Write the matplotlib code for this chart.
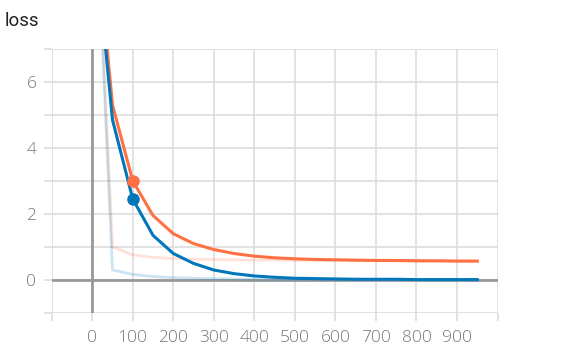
import matplotlib.pyplot as plt
import numpy as np

# training steps and loss values (smoothed and raw) for two runs
steps = [0, 50, 100, 150, 200, 250, 300, 350, 400, 450, 500, 550, 600,
         650, 700, 750, 800, 850, 900, 950]

orange_smooth = [11.8, 5.3, 3.0, 1.95, 1.4, 1.1, 0.92, 0.8, 0.72, 0.67, 0.64,
                 0.62, 0.61, 0.6, 0.59, 0.59, 0.58, 0.58, 0.57, 0.57]
blue_smooth = [11.2, 4.85, 2.45, 1.35, 0.8, 0.5, 0.3, 0.19, 0.12, 0.08, 0.05,
               0.04, 0.03, 0.02, 0.02, 0.02, 0.01, 0.01, 0.01, 0.01]

orange_raw = [14.0, 1.0, 0.76, 0.68, 0.65, 0.63, 0.62, 0.61, 0.6, 0.6, 0.59,
              0.59, 0.58, 0.58, 0.58, 0.57, 0.57, 0.57, 0.57, 0.57]
blue_raw = [14.0, 0.3, 0.17, 0.1, 0.07, 0.05, 0.04, 0.03, 0.02, 0.02, 0.01,
            0.01, 0.01, 0.01, 0.01, 0.01, 0.01, 0.01, 0.01, 0.01]

highlight_step = 100

x_ticks = list(range(-100, 1001, 100))
x_labels = [str(t) if 0 <= t <= 900 else "" for t in x_ticks]
y_ticks = list(range(-1, 8))
y_labels = [str(t) if t in (0, 2, 4, 6) else "" for t in y_ticks]

ORANGE = "#ff7043"
BLUE = "#0077bb"

plt.rcParams["font.family"] = ["Open Sans", "DejaVu Sans"]

fig = plt.figure(figsize=(5.68, 3.54), dpi=100)
ax = fig.add_axes([0.091, 0.116, 0.785, 0.746])

ax.plot(steps, orange_raw, color=ORANGE, alpha=0.2, lw=2, zorder=3)
ax.plot(steps, blue_raw, color=BLUE, alpha=0.2, lw=2, zorder=3)
ax.plot(steps, orange_smooth, color=ORANGE, lw=2.2, zorder=4)
ax.plot(steps, blue_smooth, color=BLUE, lw=2.2, zorder=4)

idx = steps.index(highlight_step)
ax.plot(steps[idx], orange_smooth[idx], "o", color=ORANGE, ms=8, zorder=5)
ax.plot(steps[idx], blue_smooth[idx], "o", color=BLUE, ms=8, zorder=5)

ax.axhline(0, color="#999999", lw=2, zorder=2)
ax.axvline(0, color="#999999", lw=2, zorder=2)

ax.set_xlim(-100, 1000)
ax.set_ylim(-1, 7)
ax.set_xticks(x_ticks)
ax.set_xticklabels(x_labels)
ax.set_yticks(y_ticks)
ax.set_yticklabels(y_labels)

ax.grid(True, color="#dddddd", lw=1.2, zorder=1)
for side in ax.spines:
    ax.spines[side].set_visible(False)
ax.tick_params(axis="both", colors="#dddddd", width=1.2, length=6,
               labelcolor="#777777", labelsize=12.5)
ax.tick_params(axis="x", pad=6)
ax.tick_params(axis="y", pad=5)
for lbl in ax.get_xticklabels() + ax.get_yticklabels():
    lbl.set_fontweight("light")

fig.text(0.008, 0.94, "loss", fontsize=13.5, color="#222222",
         family=["Roboto", "DejaVu Sans"], va="center")

fig.savefig("out.png", dpi=100)
